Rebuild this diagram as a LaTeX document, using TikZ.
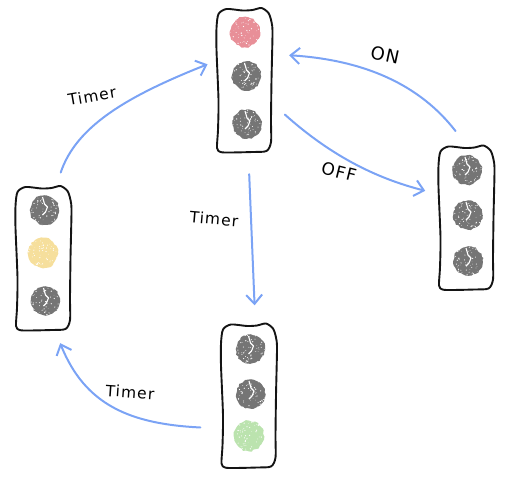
\documentclass[tikz,border=0pt]{standalone}
\usepackage{fontspec}
\setmainfont[LetterSpace=7]{DejaVu Sans}
\usetikzlibrary{arrows.meta,decorations.pathmorphing}
\definecolor{flowblue}{HTML}{7BA3F5}
\definecolor{lampoff}{HTML}{757575}
\definecolor{lampred}{HTML}{E88F98}
\definecolor{lampyellow}{HTML}{F6DF9C}
\definecolor{lampgreen}{HTML}{BBE3AE}
\pgfmathsetseed{7}
\tikzset{
  housing/.style={rectangle,minimum width=55pt,minimum height=144pt,inner sep=0pt},
  outline/.style={draw=black!92,line width=1.9pt,line join=round},
  lampdot/.style={circle,inner sep=0pt,minimum size=29pt,decorate,decoration={random steps,segment length=2.5pt,amplitude=0.9pt}},
  flow/.style={draw=flowblue,line width=2pt,line cap=round,-{Straight Barb[length=9pt,width=16pt,line width=2pt]}},
  crack/.style={draw=white,line width=1.1pt,line join=round},
  speck/.style={fill=white},
  handnote/.style={font=\fontsize{15.5}{16}\selectfont,text=black,inner sep=0pt}
}
\newcommand{\sketchbox}[3]{%
  \node[housing] (#1) at (#2,#3) {};
  \begin{scope}[shift={(#1.center)}]
    \draw[outline] plot[smooth cycle,tension=0.45] coordinates {
      (-26,-66) (-18,-71) (-2,-69.5) (8,-70) (17,-72) (24,-67) (27,-58) (28,-47)
      (27,0) (26.5,40) (26.5,62) (22,71) (8,72) (-15,72.5) (-24,72) (-27.5,68)
      (-26.5,50) (-26,20) (-28,-30) (-28,-52)};
  \end{scope}}
\newcommand{\speckles}[1]{%
  \begin{scope}[shift={(#1.center)}]
    \foreach \i in {1,...,50}{
      \pgfmathsetmacro{\aa}{360*rnd}
      \pgfmathsetmacro{\rr}{14.5*sqrt(rnd)}
      \pgfmathsetmacro{\ss}{0.25+0.45*rnd}
      \fill[speck] (\aa:\rr pt) circle (\ss pt);
    }
  \end{scope}}
\newcommand{\offlamp}[3]{%
  \node[lampdot,fill=lampoff] (#1) at (#2,#3) {};
  \begin{scope}[shift={(#1.center)}]
    \draw[crack] (-2,-13) -- (0,-6) -- (3,-3) -- (1,2) -- (-2,5);
  \end{scope}
  \speckles{#1}}
\newcommand{\onlamp}[4]{%
  \node[lampdot,minimum size=30pt,fill=#4] (#1) at (#2,#3) {};
  \speckles{#1}}
\begin{document}
\begin{tikzpicture}[x=1pt,y=-1pt]
\useasboundingbox (0,0) rectangle (511,484);
% housings
\sketchbox{tophouse}{244.5}{80}
\sketchbox{righthouse}{466.5}{217.5}
\sketchbox{lefthouse}{43.5}{258}
\sketchbox{bottomhouse}{249}{395.5}
% lamps
\onlamp{tA}{245}{32}{lampred}
\offlamp{tB}{246.5}{76}
\offlamp{tC}{247}{124}
\offlamp{rA}{467}{170}
\offlamp{rB}{468}{215}
\offlamp{rC}{468}{261}
\offlamp{lA}{44.5}{210}
\onlamp{lB}{43}{253}{lampyellow}
\offlamp{lC}{45.5}{301}
\offlamp{bA}{250.5}{349}
\offlamp{bB}{251}{394}
\onlamp{bC}{249}{436}{lampgreen}
% connectors
\draw[flow,shorten <=14pt,shorten >=10pt] (lefthouse.80) .. controls (76,127) and (125,97) .. (tophouse.145);
\draw[flow,shorten <=22pt,shorten >=18pt] (tophouse.-87) -- (bottomhouse.85);
\draw[flow,shorten <=21pt,shorten >=14pt] (bottomhouse.230) .. controls (130,424) and (85,405) .. (lefthouse.-81);
\draw[flow,shorten <=18pt,shorten >=17pt] (righthouse.north) .. controls (420,85) and (365,60) .. (tophouse.43);
\draw[flow,shorten <=17pt,shorten >=14pt] (tophouse.-40) .. controls (330,155) and (375,178) .. (righthouse.140);
% labels
\node[handnote,rotate=10] (lblA) at (92,96) {Timer};
\node[handnote,rotate=-5] (lblB) at (214,219) {Timer};
\node[handnote,rotate=-4] (lblC) at (130,392) {Timer};
\node[handnote,font=\fontsize{18}{18}\selectfont,rotate=-12] (lblD) at (385,55) {ON};
\node[handnote,font=\fontsize{17}{17}\selectfont,rotate=-14] (lblE) at (339,172) {OFF};
\end{tikzpicture}
\end{document}
